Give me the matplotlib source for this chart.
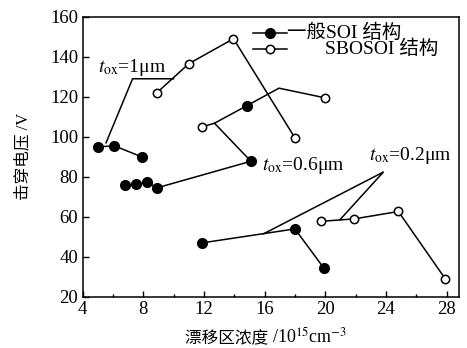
import matplotlib
matplotlib.use("Agg")
import matplotlib.pyplot as plt
from matplotlib.ticker import MultipleLocator

plt.rcParams['font.family'] = ['Liberation Serif', 'Noto Sans CJK SC']
plt.rcParams['mathtext.fontset'] = 'stix'

# 一般SOI (filled) and SBOSOI (open) breakdown voltage vs drift doping
# t_ox = 1 um
soi_1_x = [5.0, 6.1, 7.9]
soi_1_y = [95, 95.5, 90]
sbo_1_x = [8.9, 11.0, 13.95, 18.0]
sbo_1_y = [122, 136.5, 149, 99.5]
# t_ox = 0.6 um
soi_06_x = [6.8, 7.5, 8.27, 8.9, 15.1]
soi_06_y = [76, 76.2, 77.4, 74.5, 87.8]
sbo_06_x = [11.88, 12.7, 14.82, 16.95, 19.97]
sbo_06_y = [105, 106.8, 115.5, 124.3, 119.5]
sbo_06_mark = [True, False, False, False, True]
soi_06b_x = [14.82]
soi_06b_y = [115.5]
branch_06_x = [12.7, 15.1]
branch_06_y = [106.8, 87.8]
# t_ox = 0.2 um
soi_02_x = [11.86, 18.0, 19.92]
soi_02_y = [47, 54, 34.3]
sbo_02_x = [19.72, 21.9, 24.82, 27.9]
sbo_02_y = [57.8, 59, 62.7, 29.2]
# leader lines of the labels
lead_1_x = [5.55, 7.3, 10.0]
lead_1_y = [97, 129, 129]
lead_02_x = [15.92, 23.83, 20.97]
lead_02_y = [51.5, 82.4, 58.6]

fig = plt.figure(figsize=(4.67, 3.48), dpi=100)
ax = fig.add_axes([0.1767, 0.1466, 0.8063, 0.8054])

lw = 1.1
fk = dict(marker='o', ms=7, color='black', mfc='black', lw=lw)
ok = dict(marker='o', ms=6, color='black', mfc='white', mew=1.1, lw=lw)

ax.plot(lead_1_x, lead_1_y, color='black', lw=lw)
ax.plot(lead_02_x, lead_02_y, color='black', lw=lw)
ax.plot(branch_06_x, branch_06_y, color='black', lw=lw)

ax.plot(soi_1_x, soi_1_y, **fk)
ax.plot(sbo_1_x, sbo_1_y, **ok)
ax.plot(soi_06_x, soi_06_y, **fk)
ax.plot(sbo_06_x, sbo_06_y, color='black', lw=lw)
ax.plot([x for x, m in zip(sbo_06_x, sbo_06_mark) if m],
        [y for y, m in zip(sbo_06_y, sbo_06_mark) if m], ls='', **ok)
ax.plot(soi_06b_x, soi_06b_y, ls='', **fk)
ax.plot(soi_02_x, soi_02_y, **fk)
ax.plot(sbo_02_x, sbo_02_y, **ok)

ax.text(5.0, 132.5, r"$t_{\mathrm{ox}}$=1μm", fontsize=14)
ax.text(15.8, 83.5, r"$t_{\mathrm{ox}}$=0.6μm", fontsize=14)
ax.text(22.9, 88.5, r"$t_{\mathrm{ox}}$=0.2μm", fontsize=14)

# hand-made legend
tr = ax.transAxes
ax.plot([0.453, 0.543], [0.942, 0.942], transform=tr, color='black', lw=lw)
ax.plot([0.498], [0.942], transform=tr, ls='', **fk)
ax.plot([0.453, 0.543], [0.885, 0.885], transform=tr, color='black', lw=lw)
ax.plot([0.498], [0.885], transform=tr, ls='', **ok)
ax.text(0.543, 0.942, "一般SOI 结构", transform=tr, fontsize=14, va='center')
ax.text(0.644, 0.885, "SBOSOI 结构", transform=tr, fontsize=14, va='center')

ax.set_xlim(4, 28.82)
ax.set_ylim(20, 160)
ax.xaxis.set_major_locator(MultipleLocator(4))
ax.xaxis.set_minor_locator(MultipleLocator(2))
ax.yaxis.set_major_locator(MultipleLocator(20))
ax.tick_params(direction='in', length=4, width=1, labelsize=13.5, pad=3)
ax.tick_params(which='minor', direction='in', length=2, width=1)
for s in ax.spines.values():
    s.set_linewidth(1.1)

# x label in two pieces: CJK text + mathtext unit
fig.text(272 / 467, 1 - 343 / 348, "漂移区浓度 ", ha='right', va='baseline', fontsize=12)
fig.text(272 / 467, 1 - 343 / 348, r"/10$^{15}$cm$^{-3}$", ha='left', va='baseline',
         fontsize=13)
ax.set_ylabel("击穿电压 /V", fontsize=12, labelpad=14)

fig.savefig("out.png", dpi=100)
